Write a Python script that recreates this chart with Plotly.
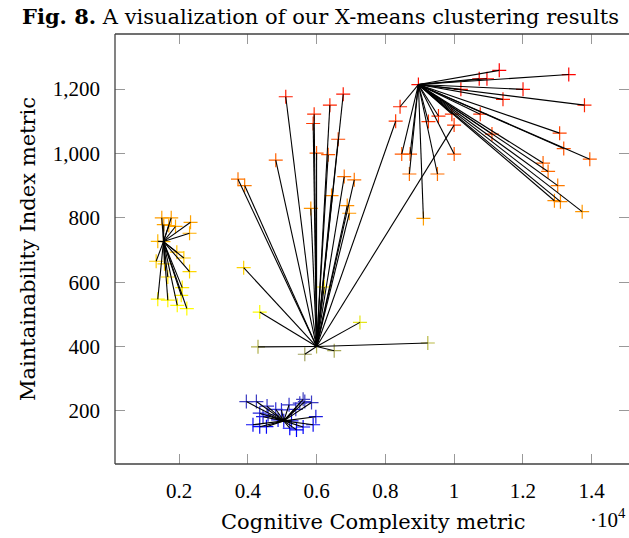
import plotly.graph_objects as go

# ---- data (Cognitive Complexity, Maintainability Index) ----
yellow_x = [1499, 1773, 1557, 1703, 1898, 2335, 2306, 1382, 1335, 1577, 1936, 2140, 2306, 1674, 2093, 1382, 1674, 1948, 2227, 2064, 1548]
yellow_y = [800, 800, 779, 776, 773, 786, 752, 727, 665, 657, 693, 675, 633, 616, 583, 547, 544, 528, 518, 559, 726]
yellow_center = (1548, 726)

blue_x = [3958, 4250, 4560, 4347, 4589, 4813, 4979, 5200, 5512, 5658, 5853, 5609, 5396, 5979, 4151, 4347, 4542, 5221, 5416, 5609, 5900, 4880, 4443, 5271, 5046]
blue_y = [229, 229, 215, 193, 188, 205, 203, 219, 224, 229, 226, 236, 205, 182, 157, 151, 151, 146, 141, 150, 157, 172, 182, 169, 169]
blue_center = (5046, 169)

mid_x = [5104, 5930, 5901, 6387, 6775, 6629, 6000, 6338, 4813, 6804, 7096, 6436, 3715, 3909, 5833, 6892, 6950, 3880, 6221, 4347, 7262, 4297, 5658, 6513, 9235, 8300, 10000, 6000]
mid_y = [1176, 1122, 1093, 1150, 1184, 1044, 1001, 996, 979, 928, 918, 869, 920, 900, 829, 838, 814, 645, 585, 507, 475, 399, 376, 387, 411, 1100, 1088, 400]
mid_center = (6000, 400)

red_x = [8428, 8477, 8719, 8699, 9253, 9545, 9935, 10002, 9515, 9107, 10197, 10730, 10955, 11313, 11421, 10760, 11101, 13334, 12004, 13791, 13069, 13188, 13946, 12587, 12733, 13013, 12917, 13092, 13724, 8961]
red_y = [1145, 998, 998, 936, 1099, 1116, 1122, 998, 936, 798, 1199, 1232, 1232, 1258, 1168, 1122, 1060, 1245, 1199, 1150, 1063, 1015, 982, 970, 944, 900, 853, 850, 819, 1214]
red_center = (8961, 1214)

x_tick_vals = [2000, 4000, 6000, 8000, 10000, 12000, 14000]
x_tick_text = ["0.2", "0.4", "0.6", "0.8", "1", "1.2", "1.4"]
y_tick_vals = [200, 400, 600, 800, 1000, 1200]

clusters = [
    (yellow_x, yellow_y, yellow_center),
    (blue_x, blue_y, blue_center),
    (mid_x, mid_y, mid_center),
    (red_x, red_y, red_center),
]

all_x, all_y = [], []
line_x, line_y = [], []
for xs, ys, (cx, cy) in clusters:
    for x, y in zip(xs, ys):
        all_x.append(x)
        all_y.append(y)
        line_x += [cx, x, None]
        line_y += [cy, y, None]

hot = [[0.0, "rgb(0,0,255)"], [1/3, "rgb(255,255,0)"], [2/3, "rgb(255,128,0)"], [1.0, "rgb(255,0,0)"]]

NUMFONT = "Liberation Serif"
TXTFONT = "DejaVu Serif"
fig = go.Figure()
fig.add_trace(go.Scatter(
    x=all_x, y=all_y, mode="markers",
    marker=dict(symbol="cross-thin", size=10,
                line=dict(width=1.2, color=all_y, colorscale=hot,
                          cmin=min(all_y), cmax=max(all_y))),
    showlegend=False, hoverinfo="skip"))
fig.add_trace(go.Scatter(
    x=line_x, y=line_y, mode="lines",
    line=dict(color="black", width=1.1),
    showlegend=False, hoverinfo="skip"))

W, H = 629, 538
L, R, T, B = 115, 0, 34, 538 - 464
PW, PH = 514, 430

fig.update_layout(
    width=W, height=H,
    margin=dict(l=L, r=R, t=T, b=B),
    paper_bgcolor="white", plot_bgcolor="white",
    font=dict(family=NUMFONT, size=21, color="black"),
    xaxis=dict(range=[138, 15086], tickvals=x_tick_vals, ticktext=x_tick_text,
               ticks="inside", ticklen=10, tickwidth=1, tickcolor="#999999",
               mirror="ticks", showline=False, showgrid=False, zeroline=False,
               ticklabelstandoff=12, tickfont=dict(size=21)),
    yaxis=dict(range=[35, 1371], tickvals=y_tick_vals, tickformat=",d",
               ticks="inside", ticklen=10, tickwidth=1, tickcolor="#999999",
               mirror="ticks", showline=False, showgrid=False, zeroline=False,
               ticklabelstandoff=14, tickfont=dict(size=21)),
    shapes=[
        dict(type="line", xref="paper", yref="paper", x0=0, x1=0, y0=0, y1=1, line=dict(color="#404040", width=1.3)),
        dict(type="line", xref="paper", yref="paper", x0=0, x1=1.01, y0=0, y1=0, line=dict(color="#404040", width=1.3)),
        dict(type="line", xref="paper", yref="paper", x0=0, x1=1.01, y0=1, y1=1, line=dict(color="#404040", width=1.3)),
    ],
    annotations=[
        dict(text="<b>Fig. 8.</b> A visualization of our X-means clustering results",
             xref="paper", yref="paper", x=(320 - 115) / PW, y=(464 - 16) / PH,
             xanchor="center", yanchor="middle", showarrow=False,
             font=dict(family=TXTFONT, size=21)),
        dict(text="Cognitive Complexity metric", xref="paper", yref="paper",
             x=(373 - 115) / PW, y=(464 - 522) / PH, xanchor="center", yanchor="middle",
             showarrow=False, font=dict(family=TXTFONT, size=21)),
        dict(text="Maintainability Index metric", xref="paper", yref="paper",
             x=(28 - 115) / PW, y=0.5, xanchor="center", yanchor="middle", textangle=-90,
             showarrow=False, font=dict(family=TXTFONT, size=21)),
        dict(text="·10<sup>4</sup>", xref="paper", yref="paper",
             x=(628 - 115) / PW, y=(464 - 518) / PH, xanchor="right", yanchor="middle",
             showarrow=False, font=dict(family=NUMFONT, size=21)),
    ],
)

fig.write_html("out.html", config={"displayModeBar": False, "staticPlot": True},
               post_script="document.body.style.margin='0';document.body.style.overflow='hidden';")
